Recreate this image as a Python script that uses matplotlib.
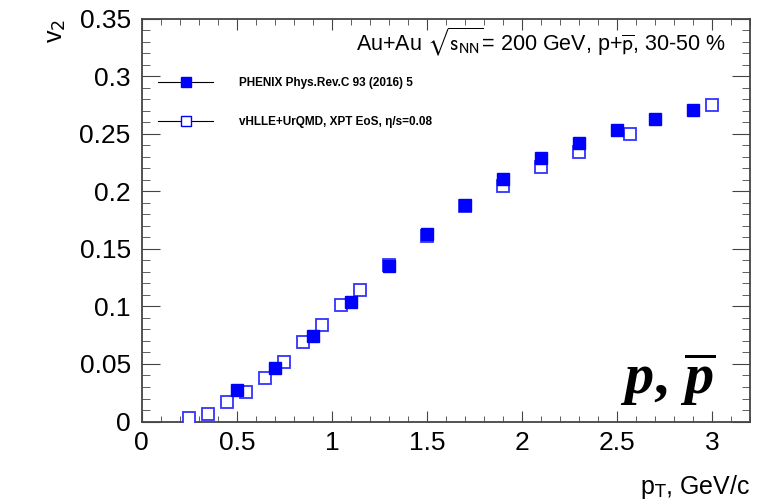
import numpy as np
import matplotlib.pyplot as plt
from matplotlib.lines import Line2D
from matplotlib.ticker import MultipleLocator

plt.rcParams['font.family'] = ['Liberation Sans', 'DejaVu Sans']
plt.rcParams['mathtext.fontset'] = 'custom'
plt.rcParams['mathtext.it'] = 'Liberation Serif:italic:bold'
plt.rcParams['mathtext.rm'] = 'Liberation Serif:bold'

# PHENIX data (filled squares)
pt_phenix = [0.5, 0.7, 0.9, 1.1, 1.3, 1.5, 1.7, 1.9, 2.1, 2.3, 2.5, 2.7, 2.9]
v2_phenix = [0.027, 0.0465, 0.074, 0.104, 0.1355, 0.163, 0.188, 0.2105, 0.229,
             0.2425, 0.2535, 0.263, 0.2705]

# vHLLE+UrQMD (open squares)
pt_model = [0.25, 0.35, 0.45, 0.55, 0.65, 0.75, 0.85, 0.95, 1.05, 1.15, 1.3,
            1.5, 1.7, 1.9, 2.1, 2.3, 2.57, 3.0]
v2_model = [0.0033, 0.0063, 0.017, 0.026, 0.0375, 0.0517, 0.069, 0.084, 0.101,
            0.1145, 0.136, 0.1615, 0.187, 0.2048, 0.221, 0.2346, 0.2497, 0.2755]

fig = plt.figure(figsize=(7.77, 5.03), dpi=100)
ax = fig.add_axes([0.1825, 0.162, 0.7828, 0.8005])

ax.plot(pt_model, v2_model, 's', ms=8.5, mfc='white', mec='#3333ff', mew=1.3,
        linestyle='none', zorder=3)
ax.plot(pt_phenix, v2_phenix, 's', ms=8, mfc='blue', mec='blue',
        linestyle='none', zorder=4)

ax.set_xlim(0, 3.2)
ax.set_ylim(0, 0.35)
ax.xaxis.set_minor_locator(MultipleLocator(0.1))
ax.yaxis.set_minor_locator(MultipleLocator(0.01))
ax.set_xticks([0, 0.5, 1, 1.5, 2, 2.5, 3])
ax.set_xticklabels(['0', '0.5', '1', '1.5', '2', '2.5', '3'])
ax.set_yticks([0, 0.05, 0.1, 0.15, 0.2, 0.25, 0.3, 0.35])
ax.set_yticklabels(['0', '0.05', '0.1', '0.15', '0.2', '0.25', '0.3', '0.35'])

ax.tick_params(which='both', direction='in', top=True, right=True,
               color='#444444', labelsize=19)
ax.tick_params(axis='x', which='major', length=8, pad=7)
ax.tick_params(axis='x', which='minor', length=4.5)
ax.tick_params(axis='y', which='major', length=13, pad=8)
ax.tick_params(axis='y', which='minor', length=6)
for s in ax.spines.values():
    s.set_color('#444444')
    s.set_linewidth(1.3)

ax.set_xlabel(r'p$_{\mathsf{T}}$, GeV/c', fontsize=18, loc='right', labelpad=13)
ax.set_ylabel(r'v$_{\mathsf{2}}$', fontsize=18, loc='top', labelpad=8)

ax.text(0.96, 0.985, r'Au+Au $\sqrt{\mathrm{s}_{\mathrm{NN}}}$= 200 GeV, p+$\overline{\mathrm{p}}$, 30-50 %',
        transform=ax.transAxes, ha='right', va='top', fontsize=15.5,
        math_fontfamily='stixsans')

ax.text(0.943, 0.07, r'$p,\,\overline{p}$', transform=ax.transAxes,
        ha='right', va='baseline', fontsize=42)

handles = [
    Line2D([], [], color='black', lw=0.8, marker='s', ms=7, mfc='blue', mec='blue'),
    Line2D([], [], color='black', lw=0.8, marker='s', ms=7, mfc='white', mec='blue'),
]
labels = ['PHENIX Phys.Rev.C 93 (2016) 5', 'vHLLE+UrQMD, XPT EoS, η/s=0.08']
ax.legend(handles, labels, loc='upper left', bbox_to_anchor=(0.004, 0.89),
          frameon=False, prop={'weight': 'bold', 'size': 8.5},
          handlelength=4.6, handletextpad=2.2, labelspacing=2.3,
          borderaxespad=0.8)

fig.savefig('out.png', dpi=100)
